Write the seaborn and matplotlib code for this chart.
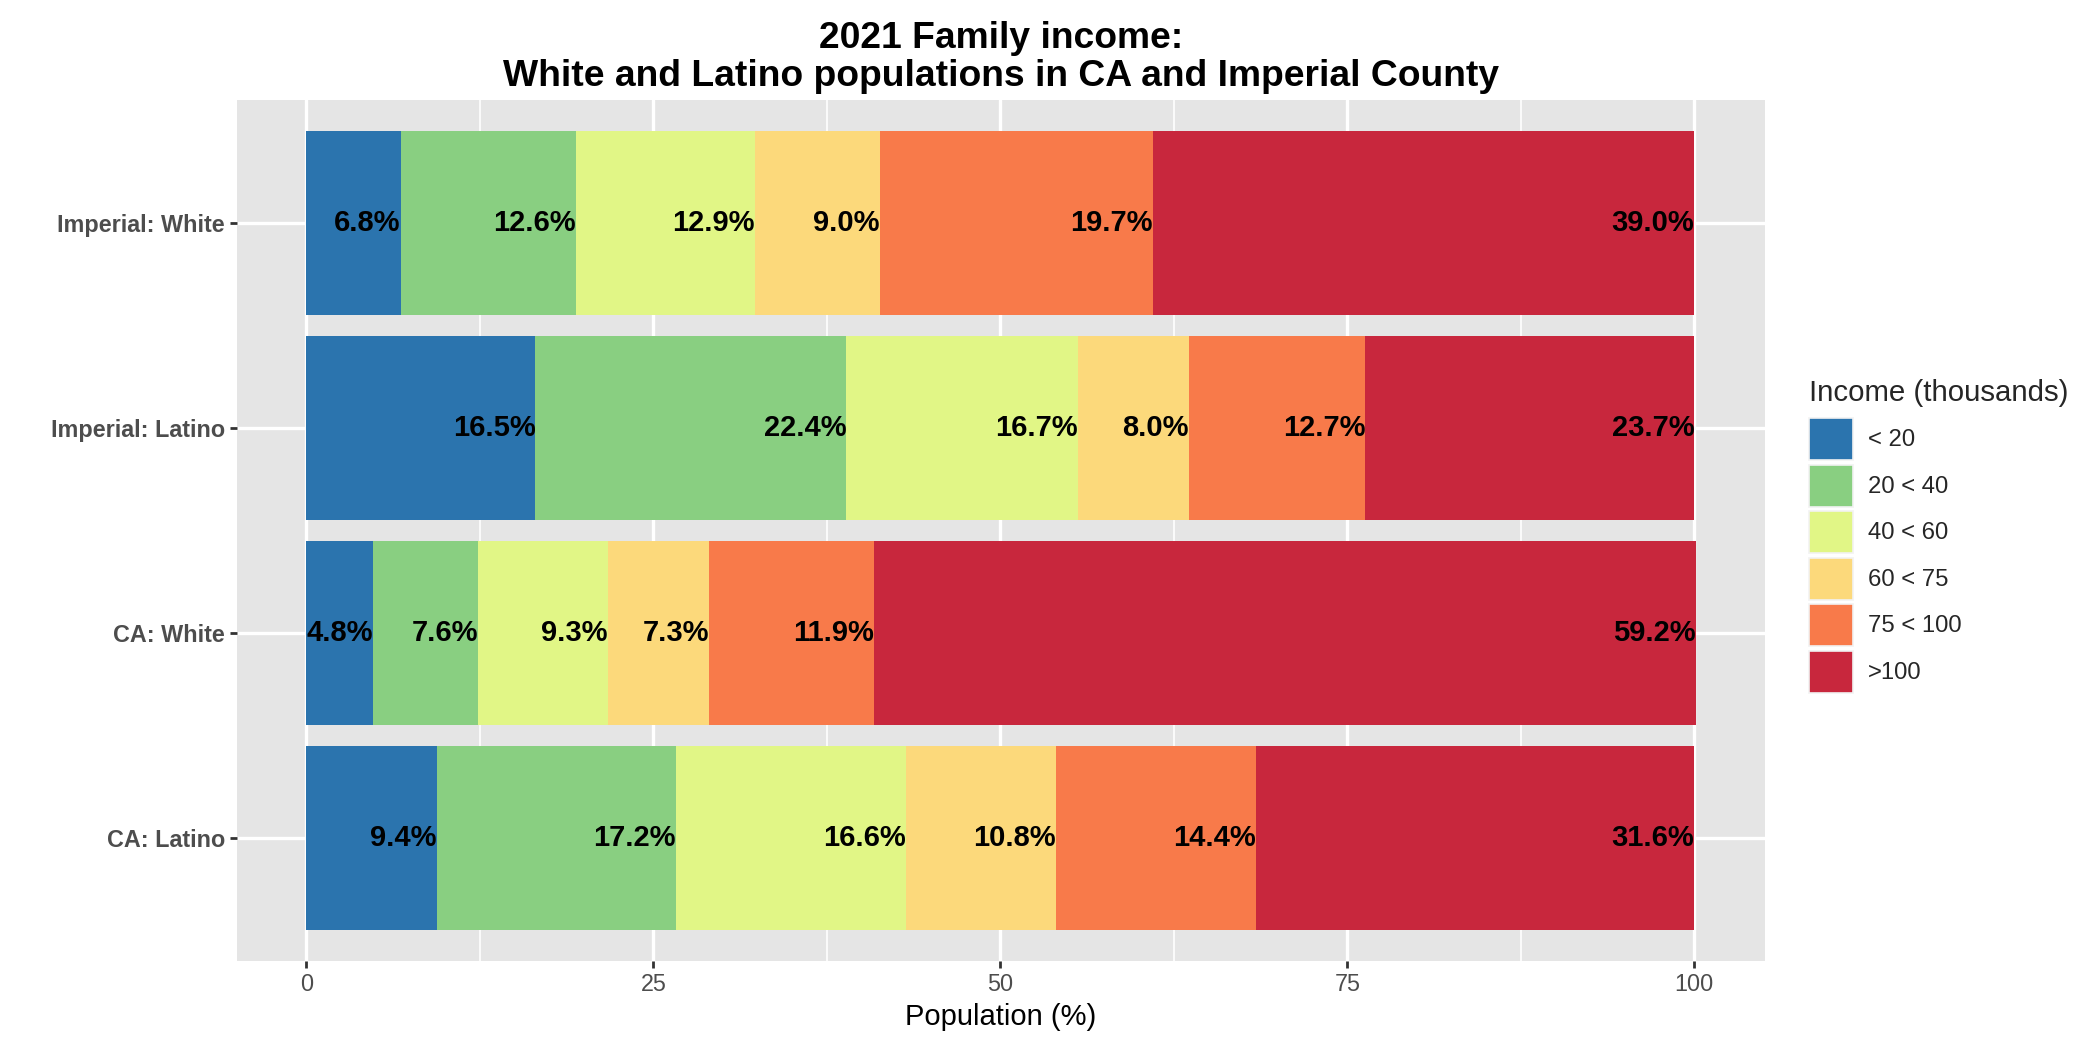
import matplotlib
matplotlib.use("Agg")
import matplotlib.pyplot as plt
import matplotlib.patches as mpatches
from matplotlib.legend_handler import HandlerBase
from matplotlib.ticker import MultipleLocator
import numpy as np
import pandas as pd
import seaborn as sns

# ---- data ----
groups = ["Imperial: White", "Imperial: Latino", "CA: White", "CA: Latino"]
income_levels = ["< 20", "20 < 40", "40 < 60", "60 < 75", "75 < 100", ">100"]
pct_lt20 = [6.8, 16.5, 4.8, 9.4]
pct_20_40 = [12.6, 22.4, 7.6, 17.2]
pct_40_60 = [12.9, 16.7, 9.3, 16.6]
pct_60_75 = [9.0, 8.0, 7.3, 10.8]
pct_75_100 = [19.7, 12.7, 11.9, 14.4]
pct_gt100 = [39.0, 23.7, 59.2, 31.6]
colors = ["#2B74AE", "#89CF81", "#E1F686", "#FCD97B", "#F87A4A", "#C8273D"]
x_ticks = [0, 25, 50, 75, 100]
title = "2021 Family income:\nWhite and Latino populations in CA and Imperial County"
x_label = "Population (%)"
legend_title = "Income (thousands)"

series = [pct_lt20, pct_20_40, pct_40_60, pct_60_75, pct_75_100, pct_gt100]
vals = np.array(series)            # levels x groups
cum = np.cumsum(vals, axis=0)

sns.set_theme(style="darkgrid")
plt.rcParams["font.family"] = ["Liberation Sans", "DejaVu Sans"]

fig = plt.figure(figsize=(20.98, 10.48), dpi=100)
ax = fig.add_axes([237 / 2098, 1 - 961 / 1048, (1765 - 237) / 2098, (961 - 100) / 1048])
ax.set_facecolor("#E5E5E5")

# draw cumulative bars from largest to smallest so that stacks appear
for k in range(len(income_levels) - 1, -1, -1):
    df = pd.DataFrame({"group": groups, "cum": cum[k]})
    sns.barplot(data=df, x="cum", y="group", order=groups, color=colors[k],
                width=0.9, saturation=1, linewidth=0, ax=ax, zorder=2)

# labels at right end of each segment
for k in range(len(income_levels)):
    for i, g in enumerate(groups):
        ax.text(cum[k][i], i, f"{vals[k][i]:.1f}%", ha="right", va="center",
                fontsize=21.0, fontweight="bold", color="black", zorder=5)

ax.set_xlim(-5, 105.1)
ax.set_ylim(len(groups) - 1 + 0.6, -0.6)
ax.set_xticks(x_ticks)
ax.xaxis.set_minor_locator(MultipleLocator(12.5))
ax.grid(which="major", color="white", linewidth=2.4, zorder=0)
ax.grid(which="minor", axis="x", color="white", linewidth=1.2, zorder=0)
ax.set_axisbelow(True)
for s in ax.spines.values():
    s.set_visible(False)

ax.tick_params(axis="both", which="major", length=5.3, width=2.0, color="#333333",
               labelcolor="#4D4D4D", labelsize=16.8, pad=3.5, bottom=True, left=True)
ax.tick_params(axis="both", which="minor", length=0)
for lab in ax.get_yticklabels():
    lab.set_fontweight("bold")

ax.set_xlabel(x_label, fontsize=21.0, color="black", labelpad=5)
ax.set_ylabel("")
ax.set_title(title, fontsize=26.8, fontweight="bold", color="black", pad=10,
             linespacing=1.1)


class KeyHandler(HandlerBase):
    """Legend key that fills the whole handle box (ggplot-like square keys)."""
    def legend_artist(self, legend, orig_handle, fontsize, handlebox):
        p = mpatches.Rectangle((-handlebox.xdescent, -handlebox.ydescent),
                               handlebox.width, handlebox.height,
                               facecolor=orig_handle.get_facecolor(),
                               edgecolor="#F2F2F2", linewidth=1.2,
                               transform=handlebox.get_transform())
        handlebox.add_artist(p)
        return p


handles = [mpatches.Patch(facecolor=c, label=l) for c, l in zip(colors, income_levels)]
leg = fig.legend(handles=handles, title=legend_title, loc="upper left",
                 bbox_to_anchor=(1809 / 2098, 1 - 379 / 1048), frameon=False,
                 fontsize=17.2, title_fontsize=21.2, handlelength=1.84,
                 handleheight=2.325, labelspacing=0.19, handletextpad=0.63,
                 borderaxespad=0, borderpad=0,
                 handler_map={mpatches.Patch: KeyHandler()})
leg._legend_box.align = "left"
leg._legend_box.sep = 8

fig.savefig("out.png", dpi=100)
